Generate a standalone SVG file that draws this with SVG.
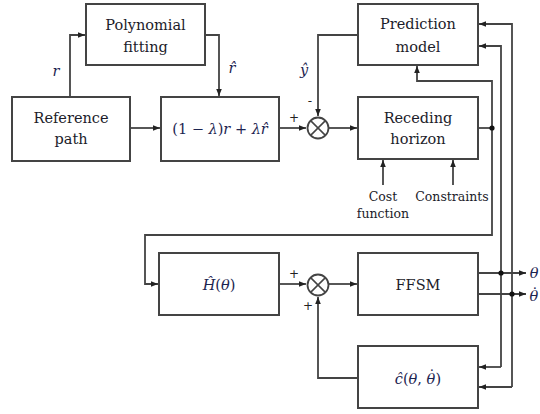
<svg xmlns="http://www.w3.org/2000/svg" width="540" height="414" viewBox="0 0 540 414">
<defs>
<marker id="ah" viewBox="0 0 10 10" refX="10" refY="5" markerWidth="7" markerHeight="7" orient="auto" markerUnits="userSpaceOnUse">
<path d="M0,1 L10,5 L0,9 Z" fill="#222"/>
</marker>
<style>
.box{fill:#fff;stroke:#444;stroke-width:2}
.ln{fill:none;stroke:#444;stroke-width:1.8}
.t{font-family:"DejaVu Serif","Liberation Serif",serif;font-size:14.5px;fill:#1c1c2a;text-anchor:middle}
.s{font-family:"DejaVu Serif","Liberation Serif",serif;font-size:12.5px;fill:#1c1c2a;text-anchor:middle}
.m{font-family:"DejaVu Serif","Liberation Serif",serif;font-size:14.5px;fill:#1c2450;text-anchor:middle}
.i{font-style:italic}
.sg{font-family:"DejaVu Sans","Liberation Sans",sans-serif;font-size:12px;fill:#222;text-anchor:middle}
.dot{fill:#111}
</style>
</defs>
<rect width="540" height="414" fill="#fff"/>

<g id="connectors">
<polyline class="ln" points="70,97 70,35 85,35" marker-end="url(#ah)"/>
<polyline class="ln" points="205,35 219,35 219,96" marker-end="url(#ah)"/>
<line class="ln" x1="130" y1="128" x2="160" y2="128" marker-end="url(#ah)"/>
<line class="ln" x1="279" y1="128" x2="306" y2="128" marker-end="url(#ah)"/>
<polyline class="ln" points="358,35 318,35 318,116" marker-end="url(#ah)"/>
<line class="ln" x1="329" y1="128" x2="357" y2="128" marker-end="url(#ah)"/>
<polyline class="ln" points="478,128 492,128"/>
<polyline class="ln" points="492,128 492,81 417,81 417,66" marker-end="url(#ah)"/>
<polyline class="ln" points="492,128 492,235 145,235 145,284 158,284" marker-end="url(#ah)"/>
<line class="ln" x1="383" y1="185" x2="383" y2="160" marker-end="url(#ah)"/>
<line class="ln" x1="453" y1="185" x2="453" y2="160" marker-end="url(#ah)"/>
<line class="ln" x1="279" y1="284" x2="306" y2="284" marker-end="url(#ah)"/>
<polyline class="ln" points="358,378 318,378 318,297" marker-end="url(#ah)"/>
<line class="ln" x1="329" y1="284" x2="357" y2="284" marker-end="url(#ah)"/>
<line class="ln" x1="478" y1="273" x2="526" y2="273" marker-end="url(#ah)"/>
<line class="ln" x1="478" y1="294" x2="526" y2="294" marker-end="url(#ah)"/>
<polyline class="ln" points="501,367 501,46 479,46" marker-end="url(#ah)"/>
<polyline class="ln" points="512,387 512,24 479,24" marker-end="url(#ah)"/>
<polyline class="ln" points="501,367 479,367" marker-end="url(#ah)"/>
<polyline class="ln" points="512,387 479,387" marker-end="url(#ah)"/>
<circle class="dot" cx="492" cy="128" r="2.6"/>
<circle class="dot" cx="501" cy="273" r="2.6"/>
<circle class="dot" cx="512" cy="294" r="2.6"/>
<text class="m i" x="56" y="76">r</text>
<text class="m i" x="232" y="73">r&#x302;</text>
<text class="m i" x="304" y="75">y&#x302;</text>
<text class="sg" x="310" y="105">-</text>
<text class="sg" x="294" y="122">+</text>
<text class="sg" x="294" y="278">+</text>
<text class="sg" x="308" y="310">+</text>
<text class="s" x="383" y="201">Cost</text>
<text class="s" x="383" y="218">function</text>
<text class="s" x="452" y="201">Constraints</text>
<text class="m i" x="534" y="278">θ</text>
<text class="m i" x="529.5" y="301" style="text-anchor:start">θ<tspan dx="-7" dy="-2" style="font-style:normal">˙</tspan></text>
</g>

<g id="polynomial">
<rect class="box" x="86" y="4" width="119" height="61"/>
<text class="t" x="145.5" y="30">Polynomial</text>
<text class="t" x="145.5" y="52">fitting</text>
</g>
<g id="reference">
<rect class="box" x="12" y="97" width="118" height="64"/>
<text class="t" x="71" y="123">Reference</text>
<text class="t" x="71" y="144">path</text>
</g>
<g id="blend">
<rect class="box" x="161" y="97" width="118" height="64"/>
<text class="m" x="220" y="134">(1 − <tspan class="i">λ</tspan>)<tspan class="i">r</tspan> + <tspan class="i">λr&#x302;</tspan></text>
</g>
<g id="sum1">
<circle cx="318" cy="128" r="10.5" fill="#fff" stroke="#444" stroke-width="1.8"/>
<path d="M310.6,120.6 L325.4,135.4 M325.4,120.6 L310.6,135.4" stroke="#444" stroke-width="1.5"/>
</g>
<g id="prediction">
<rect class="box" x="358" y="4" width="120" height="61"/>
<text class="t" x="418" y="29">Prediction</text>
<text class="t" x="418" y="52">model</text>
</g>
<g id="receding">
<rect class="box" x="358" y="97" width="120" height="62"/>
<text class="t" x="418" y="123">Receding</text>
<text class="t" x="418" y="144">horizon</text>
</g>
<g id="H">
<rect class="box" x="159" y="253" width="120" height="62"/>
<text class="m" x="219" y="290"><tspan class="i">Ĥ</tspan>(<tspan class="i">θ</tspan>)</text>
</g>
<g id="sum2">
<circle cx="318" cy="285" r="10.5" fill="#fff" stroke="#444" stroke-width="1.8"/>
<path d="M310.6,277.6 L325.4,292.4 M325.4,277.6 L310.6,292.4" stroke="#444" stroke-width="1.5"/>
</g>
<g id="ffsm">
<rect class="box" x="358" y="253" width="120" height="62"/>
<text class="t" x="418" y="290">FFSM</text>
</g>
<g id="c">
<rect class="box" x="358" y="346" width="120" height="62"/>
<text class="m" x="418" y="384"><tspan class="i">ĉ</tspan>(<tspan class="i">θ</tspan>, <tspan class="i">θ</tspan><tspan dx="-7" dy="-3">˙</tspan><tspan dy="3">)</tspan></text>
</g>
</svg>
